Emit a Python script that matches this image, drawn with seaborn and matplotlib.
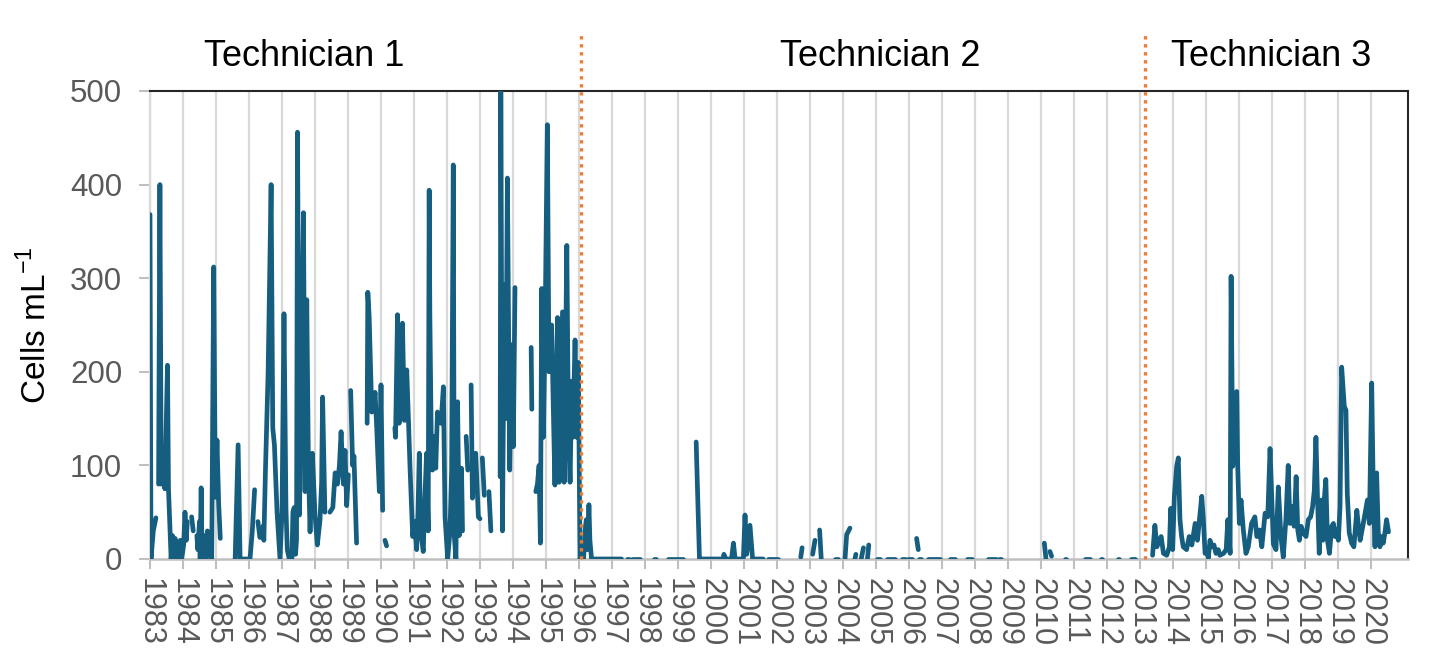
import matplotlib
matplotlib.use("Agg")
import matplotlib.pyplot as plt
import numpy as np
import pandas as pd
import seaborn as sns

nan = np.nan

# Technician 1 (1983 - early 1996); nan marks a break in the record
tech1_year = [
    1983.00, 1983.03, 1983.10, 1983.18, nan,
    1983.26, 1983.30, 1983.34, 1983.38, 1983.42, 1983.45, 1983.53, 1983.56, 1983.64, 1983.68,
    1983.72, 1983.76, 1983.80, 1983.84, 1983.88, 1983.92, 1983.96, 1984.02, 1984.06, 1984.10,
    1984.13, nan,
    1984.26, 1984.31, nan,
    1984.42, 1984.45, 1984.50, 1984.52, 1984.55, 1984.58, nan,
    1984.66, 1984.70, 1984.74, 1984.78, 1984.82, 1984.87, 1984.93, 1984.98, 1985.03, 1985.08,
    1985.13, nan,
    1985.58, 1985.67, 1985.73, 1986.03, 1986.10, 1986.17, nan,
    1986.27, 1986.33, nan,
    1986.42, 1986.45, 1986.50, 1986.58, 1986.67, 1986.72, 1986.77, 1986.85, 1986.94, 1987.00,
    1987.06, 1987.12, 1987.16, 1987.22, 1987.30, 1987.33, 1987.37, 1987.41, 1987.44, 1987.47,
    1987.53, 1987.60, 1987.65, 1987.70, 1987.75, 1987.80, 1987.85, 1987.92, 1988.00, 1988.07,
    1988.15, 1988.20, 1988.23, 1988.30, nan,
    1988.45, 1988.54, 1988.61, 1988.68, 1988.74, 1988.79, 1988.86, 1988.91, 1988.96, 1989.01, nan,
    1989.08, 1989.14, 1989.18, 1989.26, nan,
    1989.58, 1989.60, 1989.64, 1989.72, 1989.77, 1989.82, 1989.87, 1989.90, 1989.95, 1990.00,
    1990.05, nan,
    1990.12, 1990.17, nan,
    1990.42, 1990.44, 1990.50, 1990.55, 1990.60, 1990.65, 1990.71, 1990.78, 1990.83, 1990.88,
    1990.96, 1991.02, 1991.08, 1991.12, 1991.16, 1991.20, 1991.28, 1991.33, 1991.38, 1991.43,
    1991.46, 1991.48, 1991.52, 1991.56, 1991.61, 1991.66, 1991.71, 1991.76, 1991.82, 1991.89,
    1991.94, 1992.02, 1992.09, 1992.14, 1992.19, 1992.22, 1992.27, 1992.32, 1992.37, 1992.44,
    1992.47, nan,
    1992.58, 1992.63, nan,
    1992.73, 1992.77, 1992.82, 1992.87, 1992.95, 1993.00, nan,
    1993.07, 1993.13, nan,
    1993.27, 1993.33, nan,
    1993.61, 1993.63, 1993.68, 1993.74, 1993.78, 1993.83, 1993.90, 1993.96, 1994.01, 1994.06, nan,
    1994.55, 1994.57, nan,
    1994.69, 1994.74, 1994.79, 1994.83, 1994.87, 1994.92, 1994.97, 1995.04, 1995.09, 1995.17,
    1995.21, 1995.27, 1995.35, 1995.40, 1995.50, 1995.55, 1995.63, 1995.68, 1995.73, 1995.78,
    1995.81, 1995.88, 1995.93, 1995.98, 1996.03,
]
tech1_cells = [
    368, 0, 30, 44, nan,
    80, 400, 80, 95, 95, 75, 207, 75, 0, 25,
    5, 22, 0, 18, 3, 20, 0, 15, 50, 20,
    40, nan,
    45, 30, nan,
    25, 10, 40, 0, 76, 0, nan,
    25, 0, 30, 5, 28, 0, 312, 66, 127, 60,
    22, nan,
    0, 122, 0, 0, 30, 74, nan,
    40, 23, nan,
    35, 20, 97, 200, 400, 140, 122, 50, 0, 50,
    262, 54, 10, 0, 0, 50, 55, 5, 20, 456,
    47, 229, 370, 72, 277, 100, 29, 113, 47, 15,
    41, 81, 173, 50, nan,
    50, 55, 92, 80, 100, 136, 80, 116, 57, 90, nan,
    180, 100, 110, 17, nan,
    145, 285, 260, 157, 160, 178, 140, 114, 72, 186,
    52, nan,
    20, 14, nan,
    140, 130, 261, 145, 160, 252, 148, 202, 150, 97,
    24, 40, 10, 50, 113, 30, 8, 66, 113, 30,
    394, 261, 136, 95, 131, 97, 157, 150, 145, 184,
    45, 0, 30, 95, 421, 25, 0, 168, 25, 97,
    30, nan,
    131, 95, nan,
    186, 65, 100, 113, 45, 43, nan,
    108, 68, nan,
    72, 30, nan,
    88, 500, 30, 293, 150, 407, 95, 229, 120, 290, nan,
    226, 160, nan,
    72, 80, 100, 17, 289, 130, 240, 464, 200, 250,
    180, 79, 258, 82, 264, 82, 335, 135, 82, 190,
    130, 234, 130, 210, 0,
]

# Technician 2 (1996 - early 2013): mostly zero counts
tech2_year = [
    1996.03, 1996.14, 1996.18, 1996.22, 1996.26, 1996.30, 1996.33, 1996.38, 1997.29, nan,
    1997.44, 1997.50, nan,
    1997.60, 1997.65, nan,
    1997.70, 1997.85, nan,
    1998.28, 1998.32, nan,
    1998.71, 1999.16, nan,
    1999.55, 1999.65, 2000.37, 2000.39, 2000.45, 2000.62, 2000.68, 2000.73, 2000.98, 2001.03,
    2001.08, 2001.18, 2001.26, 2001.58, nan,
    2001.74, 2002.04, nan,
    2002.72, 2002.76, nan,
    2003.08, 2003.15, nan,
    2003.29, 2003.34, nan,
    2003.76, 2003.86, nan,
    2004.06, 2004.11, 2004.21, nan,
    2004.36, 2004.39, nan,
    2004.55, 2004.62, nan,
    2004.74, 2004.78, nan,
    2005.02, 2005.12, nan,
    2005.32, 2005.58, nan,
    2005.78, 2005.88, nan,
    2005.98, 2006.08, nan,
    2006.23, 2006.28, nan,
    2006.30, 2006.35, nan,
    2006.59, 2006.94, nan,
    2007.24, 2007.39, nan,
    2007.75, 2007.90, nan,
    2008.40, 2008.50, nan,
    2008.55, 2008.65, nan,
    2008.74, 2008.80, nan,
    2010.10, 2010.15, nan,
    2010.27, 2010.32, nan,
    2010.73, 2010.77, nan,
    2011.33, 2011.48, nan,
    2011.82, 2011.86, nan,
    2012.32, 2012.36, nan,
    2012.72, 2012.84,
]
tech2_cells = [
    0, 0, 30, 42, 10, 58, 20, 0, 0, nan,
    0, 0, nan,
    0, 0, nan,
    0, 0, nan,
    0, 0, nan,
    0, 0, nan,
    125, 0, 0, 5, 0, 0, 17, 0, 0, 47,
    5, 36, 0, 0, nan,
    0, 0, nan,
    2, 12, nan,
    5, 20, nan,
    31, 0, nan,
    0, 0, nan,
    0, 26, 33, nan,
    0, 5, nan,
    0, 12, nan,
    0, 15, nan,
    0, 0, nan,
    0, 0, nan,
    0, 0, nan,
    0, 0, nan,
    22, 10, nan,
    0, 0, nan,
    0, 0, nan,
    0, 0, nan,
    0, 0, nan,
    0, 0, nan,
    0, 0, nan,
    0, 0, nan,
    17, 0, nan,
    8, 3, nan,
    0, 0, nan,
    0, 0, nan,
    0, 0, nan,
    0, 0, nan,
    0, 0,
]

# Technician 3 (2013 - 2020)
tech3_year = [
    2013.38, 2013.45, 2013.51, 2013.56, 2013.64, 2013.71, 2013.81, 2013.89, 2013.93, 2013.99,
    2014.04, 2014.11, 2014.16, 2014.21, 2014.26, 2014.31, 2014.41, 2014.49, 2014.57, 2014.67,
    2014.74, 2014.80, 2014.87, 2014.92, 2014.97, 2015.02, 2015.07, 2015.12, 2015.17, 2015.24,
    2015.30, 2015.37, 2015.42, 2015.53, 2015.61, 2015.66, 2015.73, 2015.76, 2015.81, 2015.86,
    2015.93, 2015.96, 2016.01, 2016.06, 2016.13, 2016.21, 2016.28, 2016.38, 2016.48, 2016.54,
    2016.62, 2016.69, 2016.79, 2016.87, 2016.94, 2017.04, 2017.12, 2017.19, 2017.27, 2017.34,
    2017.42, 2017.49, 2017.54, 2017.60, 2017.67, 2017.73, 2017.78, 2017.83, 2017.88, 2017.95,
    2018.03, 2018.10, 2018.17, 2018.23, 2018.28, 2018.33, 2018.38, 2018.43, 2018.49, 2018.54,
    2018.59, 2018.63, 2018.68, 2018.74, 2018.81, 2018.86, 2018.91, 2018.96, 2019.01, 2019.06,
    2019.11, 2019.19, 2019.24, 2019.28, 2019.34, 2019.41, 2019.48, 2019.57, 2019.62, 2019.67,
    2019.75, 2019.82, 2019.89, 2019.95, 2020.02, 2020.07, 2020.12, 2020.17, 2020.22, 2020.27,
    2020.32, 2020.37, 2020.42, 2020.47, 2020.53,
]
tech3_cells = [
    4, 36, 13, 18, 24, 6, 4, 13, 54, 10,
    67, 99, 108, 42, 24, 13, 10, 24, 15, 38,
    20, 42, 67, 42, 6, 10, 1, 20, 13, 15,
    6, 10, 4, 6, 10, 42, 6, 302, 99, 148,
    179, 99, 38, 63, 31, 6, 13, 38, 45, 24,
    31, 13, 49, 45, 118, 16, 10, 77, 24, 2,
    42, 100, 38, 56, 35, 88, 31, 20, 35, 28,
    24, 42, 45, 56, 73, 130, 63, 6, 63, 20,
    67, 85, 20, 6, 35, 38, 24, 31, 20, 56,
    205, 163, 159, 70, 28, 17, 13, 52, 35, 20,
    35, 49, 63, 38, 188, 67, 13, 92, 28, 13,
    24, 17, 28, 42, 29,
]

tech_names = ["Technician 1", "Technician 2", "Technician 3"]
tech_changes = [1996.06, 2013.15]
label_centers = [1987.67, 2005.12, 2016.97]
year_ticks = list(range(1983, 2021))
cell_ticks = [0, 100, 200, 300, 400, 500]

LINE = "#165E80"
ORANGE = "#ED7D31"
GRID = "#D9D9D9"
AXIS_GREY = "#BFBFBF"
TICK_TXT = "#595959"

df = pd.DataFrame({
    "year": tech1_year + tech2_year + tech3_year,
    "cells": tech1_cells + tech2_cells + tech3_cells,
})
df["segment"] = df["year"].isna().cumsum()
df["segment"] = df["segment"] + np.repeat([0, 1000, 2000], [len(tech1_year), len(tech2_year), len(tech3_year)])
df = df.dropna()

sns.set_style("white")
plt.rcParams["font.family"] = ["Liberation Sans", "DejaVu Sans"]

fig = plt.figure(figsize=(14.31, 6.61), dpi=100)
ax = fig.add_axes([150 / 1431, 1 - 559 / 661, 1258 / 1431, 468 / 661])

sns.lineplot(
    data=df, x="year", y="cells", units="segment", estimator=None,
    color=LINE, linewidth=3.4, ax=ax, legend=False,
    solid_capstyle="round", solid_joinstyle="round", zorder=3,
)

ax.set_xlim(1983, 2021.12)
ax.set_ylim(0, 500)
ax.set_xticks(year_ticks)
ax.set_xticklabels([str(y) for y in year_ticks], rotation=-90)
ax.set_yticks(cell_ticks)
ax.grid(axis="x", color=GRID, linewidth=1.6, zorder=0)
ax.grid(axis="y", visible=False)
ax.set_axisbelow(True)

ax.tick_params(axis="x", length=7, width=1.5, color=AXIS_GREY, labelsize=22,
               labelcolor=TICK_TXT, pad=7, direction="out", bottom=True)
ax.tick_params(axis="y", length=8, width=1.5, color=AXIS_GREY, labelsize=22.5,
               labelcolor=TICK_TXT, pad=12, direction="out", left=True)

ax.spines["top"].set_color("#262626")
ax.spines["top"].set_linewidth(1.5)
ax.spines["right"].set_color("#262626")
ax.spines["right"].set_linewidth(1.5)
ax.spines["bottom"].set_color(AXIS_GREY)
ax.spines["bottom"].set_linewidth(1.8)
ax.spines["left"].set_color(GRID)
ax.spines["left"].set_linewidth(1.6)

ax.set_xlabel("")
ax.set_ylabel("Cells mL$^{\\mathregular{-1}}$", fontsize=24, color="black", labelpad=12)

for xc in tech_changes:
    ax.axvline(xc, ymin=0, ymax=1.12, color=ORANGE, linewidth=2.4,
               linestyle=(0, (1, 1.4)), clip_on=False, zorder=4)

for name, xc in zip(tech_names, label_centers):
    ax.text(xc, 1.073, name, transform=ax.get_xaxis_transform(), ha="center",
            va="center", fontsize=26, color="black")

fig.savefig("out.png", dpi=100)
